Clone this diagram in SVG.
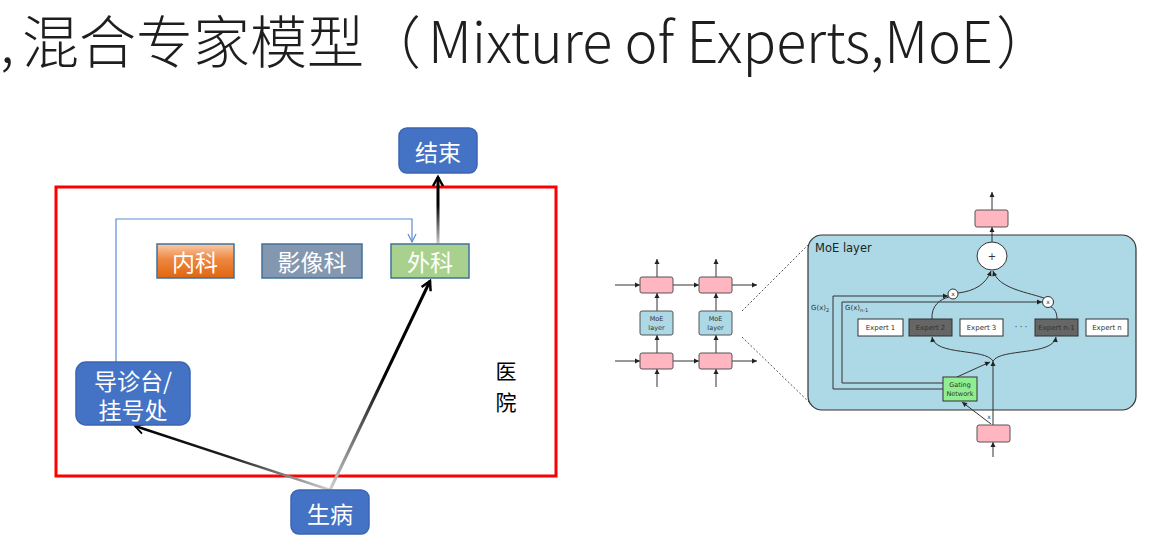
<svg xmlns="http://www.w3.org/2000/svg" width="1168" height="541" viewBox="0 0 1168 541">
<style>
.title{font-family:"Noto Sans CJK SC","Noto Sans",sans-serif;font-weight:300;font-size:57px;fill:#1e1e1e}
.cn{font-family:"Noto Sans CJK SC",sans-serif;font-size:23px;fill:#fff;text-anchor:middle;dominant-baseline:central}
.blk{font-family:"Noto Sans CJK SC",sans-serif;font-size:21px;fill:#000;text-anchor:middle}
.bluebox{fill:#4472C4;stroke:#3a65b3;stroke-width:1.5}
.dept{stroke:#41719c;stroke-width:1.5}
.m{font-family:"DejaVu Sans",sans-serif;fill:#333;text-anchor:middle}
.pink{fill:#ffb6c1;stroke:#555;stroke-width:1}
.ln{stroke:#333;stroke-width:1;fill:none}
</style>
<defs>
<linearGradient id="orange" x1="0" y1="0" x2="0" y2="1">
<stop offset="0" stop-color="#f9cba6"/><stop offset="0.45" stop-color="#ee8640"/><stop offset="1" stop-color="#e0660f"/>
</linearGradient>
<linearGradient id="g1" gradientUnits="userSpaceOnUse" x1="330" y1="490" x2="430" y2="281">
<stop offset="0" stop-color="#cfcfcf"/><stop offset="0.55" stop-color="#000"/><stop offset="1" stop-color="#000"/>
</linearGradient>
<linearGradient id="g2" gradientUnits="userSpaceOnUse" x1="330" y1="490" x2="135" y2="426">
<stop offset="0" stop-color="#cfcfcf"/><stop offset="0.5" stop-color="#222"/><stop offset="1" stop-color="#000"/>
</linearGradient>
<linearGradient id="g3" gradientUnits="userSpaceOnUse" x1="438" y1="248" x2="438" y2="176">
<stop offset="0" stop-color="#e0e0e0"/><stop offset="0.6" stop-color="#000"/><stop offset="1" stop-color="#000"/>
</linearGradient>
<marker id="chev" markerUnits="userSpaceOnUse" markerWidth="14" markerHeight="14" refX="9" refY="5" orient="auto" overflow="visible">
<path d="M0,0 L9,5 L0,10" fill="none" stroke="#000" stroke-width="2.5"/>
</marker>
<marker id="chevT" markerUnits="userSpaceOnUse" markerWidth="14" markerHeight="14" refX="9" refY="5" orient="auto" overflow="visible">
<path d="M0,0 L9,5 L0,10" fill="none" stroke="#000" stroke-width="1.8"/>
</marker>
<marker id="bl" markerUnits="userSpaceOnUse" markerWidth="12" markerHeight="12" refX="8" refY="4" orient="auto" overflow="visible">
<path d="M0,0 L8,4 L0,8" fill="none" stroke="#5b8bd6" stroke-width="1.2"/>
</marker>
<marker id="a" markerUnits="userSpaceOnUse" markerWidth="6" markerHeight="6" refX="5" refY="2.5" orient="auto" overflow="visible">
<path d="M0,0 L5,2.5 L0,5 z" fill="#222"/>
</marker>
</defs>

<!-- title -->
<text class="title" x="0" y="63">,</text>
<text class="title" x="22" y="63">混合专家模型（</text>
<text class="title" x="428" y="63" textLength="565" lengthAdjust="spacingAndGlyphs">Mixture of Experts,MoE</text>
<text class="title" x="996" y="63">）</text>

<!-- hospital frame -->
<rect id="hospital" x="56" y="187" width="500" height="289" fill="none" stroke="#ff0000" stroke-width="3"/>
<g id="label-hospital">
<text class="blk" x="506" y="379">医</text>
<text class="blk" x="506" y="410">院</text>
</g>

<g id="connectors">
<polyline points="116,362 116,219 412,219 412,242" fill="none" stroke="#5b8bd6" stroke-width="1.2" marker-end="url(#bl)"/>
<line x1="438" y1="248" x2="438" y2="177" stroke="url(#g3)" stroke-width="3" marker-end="url(#chev)"/>
<line x1="330" y1="490" x2="430" y2="281" stroke="url(#g1)" stroke-width="3" marker-end="url(#chev)"/>
<line x1="330" y1="490" x2="135" y2="426" stroke="url(#g2)" stroke-width="2.5" marker-end="url(#chevT)"/>
</g>

<g id="end"><rect class="bluebox" x="399" y="128" width="78" height="45" rx="8"/><text class="cn" x="438" y="151">结束</text></g>
<g id="neike"><rect class="dept" x="157" y="244" width="77" height="34" fill="url(#orange)"/><text class="cn" x="195" y="261">内科</text></g>
<g id="yingxiang"><rect class="dept" x="262" y="244" width="100" height="34" fill="#8497b0"/><text class="cn" x="312" y="261">影像科</text></g>
<g id="waike"><rect class="dept" x="391" y="244" width="78" height="34" fill="#a9d18e"/><text class="cn" x="430" y="261">外科</text></g>
<g id="triage"><rect class="bluebox" x="76" y="362" width="114" height="63" rx="10"/><text class="cn" x="133" y="380" font-size="22">导诊台/</text><text class="cn" x="133" y="409" font-size="22">挂号处</text></g>
<g id="sick"><rect class="bluebox" x="291" y="490" width="78" height="44" rx="8"/><text class="cn" x="330" y="513">生病</text></g>

<!-- small MoE stack -->
<g id="stack-connectors">
<line class="ln" x1="615" y1="285" x2="640" y2="285" marker-end="url(#a)"/>
<line class="ln" x1="673" y1="285" x2="699" y2="285" marker-end="url(#a)"/>
<line class="ln" x1="732" y1="285" x2="757" y2="285" marker-end="url(#a)"/>
<line class="ln" x1="615" y1="361" x2="640" y2="361" marker-end="url(#a)"/>
<line class="ln" x1="673" y1="361" x2="699" y2="361" marker-end="url(#a)"/>
<line class="ln" x1="732" y1="361" x2="757" y2="361" marker-end="url(#a)"/>
<line class="ln" x1="657" y1="277" x2="657" y2="259" marker-end="url(#a)"/>
<line class="ln" x1="657" y1="311" x2="657" y2="293" marker-end="url(#a)"/>
<line class="ln" x1="657" y1="353" x2="657" y2="335" marker-end="url(#a)"/>
<line class="ln" x1="657" y1="387" x2="657" y2="369" marker-end="url(#a)"/>
<line class="ln" x1="716" y1="277" x2="716" y2="259" marker-end="url(#a)"/>
<line class="ln" x1="716" y1="311" x2="716" y2="293" marker-end="url(#a)"/>
<line class="ln" x1="716" y1="353" x2="716" y2="335" marker-end="url(#a)"/>
<line class="ln" x1="716" y1="387" x2="716" y2="369" marker-end="url(#a)"/>
<line x1="742" y1="311" x2="812" y2="241" stroke="#555" stroke-width="1" stroke-dasharray="2,2"/>
<line x1="742" y1="337" x2="812" y2="405" stroke="#555" stroke-width="1" stroke-dasharray="2,2"/>
</g>
<g id="s-p1"><rect class="pink" x="640" y="277" width="33" height="16" rx="2"/></g>
<g id="s-p2"><rect class="pink" x="699" y="277" width="33" height="16" rx="2"/></g>
<g id="s-m1"><rect x="640" y="311" width="33" height="24" rx="2" fill="#add8e6" stroke="#555"/><text class="m" x="656.5" y="321" font-size="6.5">MoE</text><text class="m" x="656.5" y="330" font-size="6.5">layer</text></g>
<g id="s-m2"><rect x="699" y="311" width="33" height="24" rx="2" fill="#add8e6" stroke="#555"/><text class="m" x="715.5" y="321" font-size="6.5">MoE</text><text class="m" x="715.5" y="330" font-size="6.5">layer</text></g>
<g id="s-p3"><rect class="pink" x="640" y="353" width="33" height="16" rx="2"/></g>
<g id="s-p4"><rect class="pink" x="699" y="353" width="33" height="16" rx="2"/></g>

<!-- big MoE layer -->
<g id="moe-layer"><rect x="808" y="235" width="328" height="175" rx="14" fill="#add8e6" stroke="#333" stroke-width="1.2"/>
<text x="815" y="252" font-family="DejaVu Sans,sans-serif" font-size="11.5" fill="#222">MoE layer</text></g>

<g id="moe-connectors">
<line class="ln" x1="992" y1="210" x2="992" y2="192" marker-end="url(#a)"/>
<line class="ln" x1="992" y1="242" x2="992" y2="227" marker-end="url(#a)"/>
<path class="ln" d="M958,293 C975,291 986,284 991,271" marker-end="url(#a)"/>
<path class="ln" d="M1044,298 C1022,291 999,288 993,271" marker-end="url(#a)"/>
<path class="ln" d="M932,319 C931,306 940,299 949,297"/>
<path class="ln" d="M1057,319 C1057,313 1055,309 1051,307"/>
<path class="ln" d="M993,361 C985,348 935,356 932,337" marker-end="url(#a)"/>
<path class="ln" d="M993,361 C1001,348 1053,356 1056,337" marker-end="url(#a)"/>
<line class="ln" x1="993" y1="425" x2="993" y2="361" marker-end="url(#a)"/>
<line class="ln" x1="957" y1="377" x2="990" y2="362" marker-end="url(#a)"/>
<line class="ln" x1="991" y1="424" x2="962" y2="402" marker-end="url(#a)"/>
<polyline class="ln" points="943,389 833,389 833,296 948,296" marker-end="url(#a)"/>
<polyline class="ln" points="943,383 842,383 842,302 1042,302" marker-end="url(#a)"/>
<line class="ln" x1="993" y1="457" x2="993" y2="442" marker-end="url(#a)"/>
<text class="m" x="989" y="419" font-size="6">x</text>
<text x="811" y="310" font-family="DejaVu Sans,sans-serif" font-size="7" fill="#333">G(x)<tspan font-size="5" dy="2">2</tspan></text>
<text x="845" y="310" font-family="DejaVu Sans,sans-serif" font-size="7" fill="#333">G(x)<tspan font-size="5" dy="2">n-1</tspan></text>
</g>

<g id="out-pink"><rect class="pink" x="975" y="210" width="33" height="17" rx="2"/></g>
<g id="plus"><ellipse cx="992" cy="256" rx="15" ry="14" fill="#fff" stroke="#333"/><text class="m" x="992" y="260" font-size="10">+</text></g>
<g id="mul1"><circle cx="953" cy="294" r="5" fill="#fff" stroke="#333"/><text class="m" x="953" y="296" font-size="6">x</text></g>
<g id="mul2"><circle cx="1048" cy="302" r="5.5" fill="#fff" stroke="#333"/><text class="m" x="1048" y="304" font-size="6">x</text></g>
<g id="expert1"><rect x="858" y="319" width="45" height="17" fill="#fff" stroke="#333"/><text class="m" x="880.5" y="330" font-size="7">Expert 1</text></g>
<g id="expert2"><rect x="909" y="319" width="43" height="17" fill="#666" stroke="#333"/><text class="m" x="930.5" y="330" font-size="7" fill="#ddd">Expert 2</text></g>
<g id="expert3"><rect x="960" y="319" width="43" height="17" fill="#fff" stroke="#333"/><text class="m" x="981.5" y="330" font-size="7">Expert 3</text></g>
<text class="m" x="1021" y="330" font-size="8">· · ·</text>
<g id="expertn1"><rect x="1035" y="319" width="43" height="17" fill="#666" stroke="#333"/><text class="m" x="1056.5" y="330" font-size="7" fill="#ddd">Expert n-1</text></g>
<g id="expertn"><rect x="1086" y="319" width="42" height="17" fill="#fff" stroke="#333"/><text class="m" x="1107" y="330" font-size="7">Expert n</text></g>
<g id="gating"><rect x="943" y="377" width="34" height="24" fill="#90ee90" stroke="#333"/><text class="m" x="960" y="387" font-size="6.5" fill="#2d6b2d">Gating</text><text class="m" x="960" y="396" font-size="6.5" fill="#2d6b2d">Network</text></g>
<g id="in-pink"><rect class="pink" x="977" y="425" width="33" height="17" rx="2"/></g>
</svg>
